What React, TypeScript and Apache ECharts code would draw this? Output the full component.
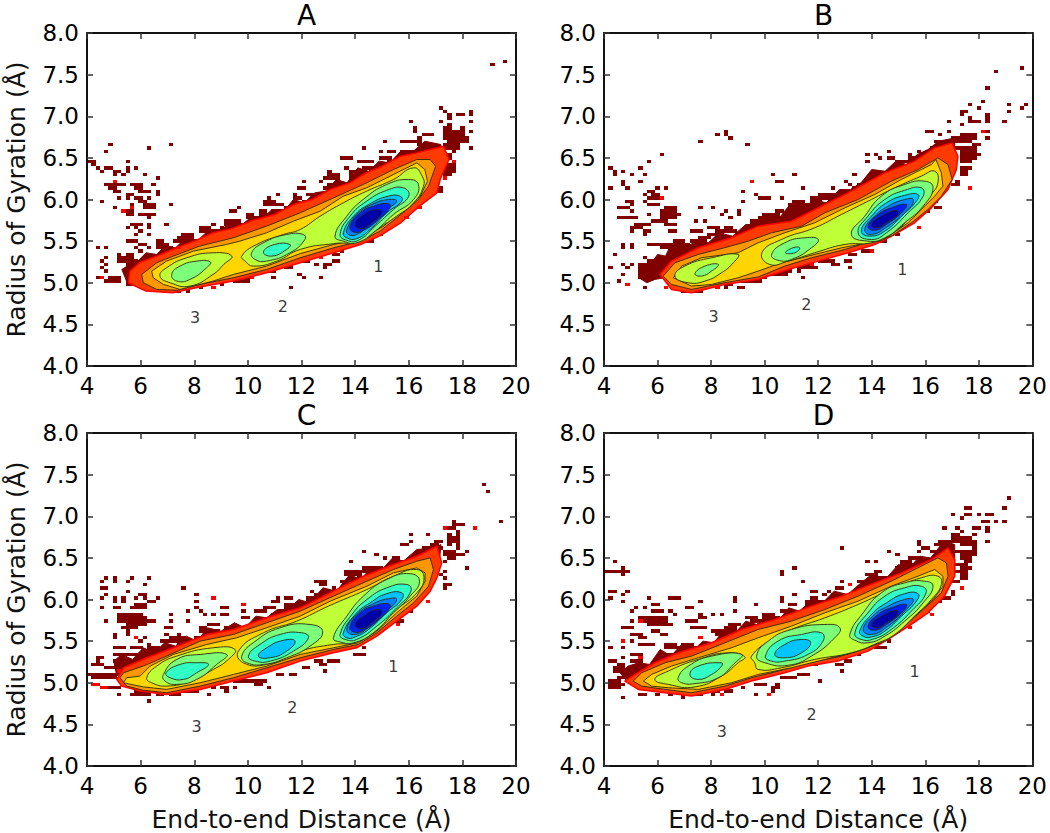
import React, { useEffect, useRef } from "react";
import * as echarts from "echarts";

const panelTitles = ["A", "B", "C", "D"];
const xTicksMin = 4, xTicksMax = 20, xTickStep = 2;
const yTicksMin = 4, yTicksMax = 8, yTickStep = 0.5;
const xName = "End-to-end Distance (Å)";
const yName = "Radius of Gyration (Å)";
const levelColors = ["#800000", "#ff3a00", "#ff9800", "#ffd500", "#bfff38", "#7dff7a", "#30ffc6", "#00c4ff", "#0080ff", "#0020f0", "#0000a8"];
const binW = 0.16, binH = 0.04;

// each band: level, then x,y pairs of the contour
const bandsA: number[][] = [
  [0, 5.5,5.0, 5.3,5.16, 5.5,5.2, 5.6,5.3, 5.9,5.26, 6.2,5.36, 6.6,5.34, 6.9,5.44, 7.3,5.42, 7.7,5.54, 8.1,5.5, 8.5,5.62, 8.9,5.6, 9.3,5.72, 9.7,5.68, 10.1,5.78, 10.5,5.76, 10.9,5.88, 11.3,5.84, 11.7,6.0, 12.1,5.96, 12.5,6.08, 12.9,6.1, 13.3,6.24, 13.7,6.2, 14.1,6.38, 14.5,6.34, 14.9,6.46, 15.3,6.44, 15.7,6.58, 16.1,6.56, 16.6,6.7, 17.2,6.66, 17.2,6.3, 14,5.8, 10,5.4, 7,5.1],
  [1, 5.54,5.0, 5.6,5.14, 6.0,5.25, 6.6,5.32, 7.35,5.42, 8.0,5.5, 8.7,5.6, 9.4,5.65, 10.2,5.75, 11.0,5.82, 11.7,5.94, 12.4,6.0, 13.07,6.12, 13.8,6.2, 14.4,6.32, 15.0,6.4, 15.7,6.52, 16.3,6.56, 16.8,6.6, 17.3,6.64, 17.5,6.48, 17.17,6.24, 17.05,6.08, 16.4,5.92, 15.7,5.72, 14.9,5.56, 14.2,5.46, 13.2,5.36, 11.95,5.24, 10.7,5.12, 9.46,5.02, 8.2,4.95, 7.2,4.88, 6.2,4.9],
  [2, 6.04,5.1, 6.6,5.24, 7.22,5.32, 8.2,5.44, 9.46,5.54, 10.7,5.68, 11.95,5.84, 13.2,6.02, 14.43,6.2, 15.43,6.36, 16.3,6.48, 16.8,6.48, 17.0,6.4, 16.74,6.16, 16.36,6.0, 15.7,5.82, 14.93,5.62, 14.2,5.5, 13.2,5.42, 11.95,5.3, 10.7,5.16, 9.46,5.06, 8.2,4.98, 7.35,4.91, 6.6,4.92, 6.1,5.0],
  [3, 6.41,5.14, 6.97,5.26, 7.97,5.38, 9.2,5.46, 9.7,5.5, 10.7,5.6, 11.7,5.74, 12.7,5.86, 13.56,6.04, 14.43,6.14, 15.43,6.3, 16.3,6.44, 16.6,6.36, 16.7,6.22, 16.43,6.04, 15.8,5.88, 15.06,5.68, 14.3,5.54, 13.2,5.46, 11.95,5.35, 10.7,5.2, 9.46,5.1, 8.7,5.02, 7.47,4.92, 6.85,4.98, 6.47,5.06],
  [4, 6.72,5.08, 6.97,5.18, 7.72,5.3, 8.7,5.36, 9.4,5.32, 9.1,5.22, 8.7,5.1, 7.84,4.96, 7.1,5.0],
  [4, 9.77,5.32, 10.33,5.46, 11.33,5.58, 11.95,5.64, 12.7,5.8, 13.56,5.96, 14.43,6.1, 15.43,6.24, 16.18,6.38, 16.5,6.28, 16.55,6.16, 16.18,5.96, 15.55,5.8, 14.8,5.64, 14.12,5.5, 13.2,5.47, 11.95,5.4, 11.08,5.26, 10.2,5.2, 9.9,5.26],
  [5, 7.16,5.1, 7.47,5.2, 8.1,5.26, 8.6,5.25, 8.46,5.18, 7.84,5.04, 7.35,5.02],
  [5, 10.14,5.36, 10.58,5.48, 11.45,5.58, 12.07,5.58, 12.13,5.52, 11.57,5.36, 10.7,5.26, 10.27,5.28],
  [5, 13.25,5.56, 13.69,5.8, 14.3,6.0, 15.18,6.18, 15.99,6.24, 16.36,6.18, 16.18,6.0, 15.43,5.82, 14.75,5.62, 14.06,5.48, 13.56,5.5],
  [6, 10.58,5.37, 11.0,5.46, 11.57,5.46, 11.45,5.4, 10.89,5.32],
  [6, 13.44,5.58, 13.81,5.8, 14.43,5.98, 15.18,6.11, 15.8,6.14, 16.0,6.04, 15.43,5.88, 14.75,5.68, 14.12,5.51, 13.69,5.51],
  [7, 13.56,5.6, 13.94,5.8, 14.56,5.95, 15.24,6.04, 15.68,6.04, 15.74,5.98, 15.18,5.84, 14.56,5.64, 14.06,5.53, 13.69,5.54],
  [8, 13.69,5.64, 14.06,5.82, 14.62,5.94, 15.24,6.0, 15.55,5.98, 15.18,5.88, 14.56,5.7, 14.06,5.58, 13.75,5.58],
  [9, 13.81,5.68, 14.19,5.84, 14.68,5.92, 15.24,5.95, 15.3,5.9, 14.81,5.74, 14.31,5.63, 13.94,5.61],
  [10, 14.0,5.7, 14.31,5.82, 14.81,5.88, 15.0,5.84, 14.62,5.72, 14.25,5.65],
];
const bandsB: number[][] = [
  [0, 5.9,5.04, 5.6,5.0, 5.3,5.06, 5.3,5.18, 5.7,5.2, 6.0,5.34, 6.3,5.32, 6.5,5.46, 7.1,5.44, 7.5,5.5, 7.9,5.48, 8.3,5.6, 8.8,5.56, 9.3,5.7, 9.7,5.7, 10.1,5.82, 10.5,5.76, 10.9,5.92, 11.4,5.84, 11.8,6.0, 12.3,5.96, 12.8,6.12, 13.2,6.12, 13.6,6.2, 14.0,6.36, 14.5,6.34, 14.9,6.46, 15.3,6.42, 15.7,6.54, 16.1,6.6, 16.5,6.7, 17.1,6.74, 17.1,6.3, 14,5.8, 10,5.4, 7,5.1],
  [1, 6.09,5.1, 6.52,5.26, 7.52,5.42, 8.76,5.54, 9.76,5.68, 11.0,5.74, 12.0,5.9, 13.24,6.1, 14.48,6.32, 15.6,6.46, 16.35,6.62, 17.0,6.68, 17.22,6.52, 17.16,6.36, 16.85,6.12, 16.23,5.9, 15.6,5.72, 14.86,5.58, 14.11,5.46, 13.12,5.36, 12.0,5.26, 10.88,5.16, 9.76,5.04, 8.5,4.98, 7.27,4.88, 6.52,4.92],
  [2, 6.21,5.08, 6.65,5.24, 7.52,5.34, 8.5,5.42, 9.39,5.5, 10.26,5.6, 11.38,5.68, 12.25,5.84, 13.49,6.0, 14.73,6.22, 15.73,6.36, 16.47,6.5, 16.85,6.42, 17.0,6.24, 16.6,6.04, 16.1,5.88, 15.48,5.72, 14.73,5.56, 13.99,5.5, 13.0,5.4, 11.75,5.3, 10.75,5.2, 9.76,5.07, 8.5,5.0, 7.27,4.92, 6.52,4.98],
  [3, 6.59,5.06, 6.9,5.2, 7.64,5.3, 9.01,5.36, 9.76,5.48, 10.75,5.6, 11.87,5.72, 13.0,5.9, 14.11,6.06, 15.1,6.24, 16.23,6.42, 16.4,6.48, 16.6,6.32, 16.66,6.16, 16.35,6.04, 15.85,5.88, 15.36,5.72, 14.61,5.56, 13.86,5.48, 12.87,5.42, 11.62,5.32, 10.63,5.24, 9.76,5.14, 9.01,5.06, 8.02,4.98, 7.27,4.96],
  [4, 6.65,5.08, 7.02,5.2, 8.02,5.3, 9.01,5.34, 8.83,5.24, 8.39,5.12, 7.77,5.02, 7.15,5.0],
  [4, 9.9,5.36, 10.63,5.52, 11.87,5.66, 12.87,5.82, 13.99,6.0, 14.86,6.14, 15.85,6.28, 16.35,6.34, 16.47,6.2, 16.16,6.04, 15.6,5.84, 14.73,5.58, 13.99,5.48, 13.0,5.46, 11.87,5.36, 10.88,5.26, 10.19,5.22],
  [5, 7.4,5.11, 7.77,5.2, 8.27,5.22, 8.02,5.14, 7.64,5.08],
  [5, 10.26,5.34, 10.75,5.48, 11.5,5.54, 12.0,5.52, 11.75,5.42, 11.0,5.28, 10.5,5.27],
  [5, 13.24,5.58, 13.74,5.8, 14.36,6.04, 15.23,6.18, 15.98,6.22, 16.29,6.14, 15.92,5.92, 15.23,5.72, 14.49,5.54, 13.86,5.5],
  [6, 10.78,5.36, 11.06,5.42, 11.31,5.42, 11.13,5.36],
  [6, 13.49,5.6, 13.86,5.8, 14.49,6.0, 15.23,6.11, 15.85,6.14, 15.92,6.04, 15.36,5.84, 14.55,5.6, 13.99,5.52],
  [7, 13.61,5.62, 13.99,5.8, 14.55,5.96, 15.23,6.05, 15.73,6.06, 15.67,5.98, 15.11,5.8, 14.49,5.62, 13.93,5.56],
  [8, 13.74,5.64, 14.11,5.8, 14.61,5.92, 15.23,6.0, 15.55,6.0, 15.36,5.88, 14.61,5.68, 13.99,5.58],
  [9, 13.86,5.68, 14.24,5.82, 14.73,5.9, 15.29,5.94, 15.17,5.86, 14.55,5.7, 14.11,5.63],
  [10, 13.99,5.7, 14.36,5.8, 14.92,5.87, 14.98,5.82, 14.55,5.72, 14.17,5.66],
];
const bandsC: number[][] = [
  [0, 5.1,5.1, 5.0,5.26, 5.3,5.34, 5.7,5.28, 6.1,5.42, 6.5,5.36, 6.9,5.48, 7.3,5.44, 7.7,5.56, 8.1,5.5, 8.5,5.66, 9.0,5.62, 9.5,5.72, 9.9,5.66, 10.3,5.8, 10.7,5.78, 11.1,5.88, 11.5,5.88, 11.9,6.0, 12.3,5.96, 12.8,6.14, 13.3,6.1, 13.8,6.3, 14.2,6.24, 14.6,6.38, 15,6.36, 15.4,6.5, 15.8,6.46, 16.3,6.6, 16.9,6.62, 17.2,6.66, 17.1,6.3, 14,5.8, 10,5.4, 7,5.1],
  [1, 5.11,5.04, 5.36,5.18, 6.23,5.3, 7.22,5.42, 8.47,5.58, 9.46,5.64, 10.7,5.78, 11.95,5.9, 13.19,6.1, 14.31,6.28, 15.43,6.42, 16.3,6.52, 17.05,6.64, 17.23,6.44, 17.05,6.26, 16.8,6.1, 16.3,5.92, 15.55,5.74, 14.81,5.56, 14.06,5.42, 13.19,5.36, 11.95,5.26, 10.7,5.12, 9.46,5.02, 8.22,4.92, 6.97,4.86, 5.98,4.9, 5.29,4.96],
  [2, 5.23,5.06, 5.36,5.12, 6.1,5.2, 6.97,5.32, 8.22,5.5, 9.46,5.58, 10.7,5.72, 11.95,5.86, 13.19,6.04, 14.44,6.22, 15.43,6.36, 16.3,6.46, 16.8,6.5, 16.92,6.36, 16.74,6.16, 16.18,5.96, 15.55,5.8, 14.81,5.6, 14.12,5.46, 13.19,5.4, 11.95,5.3, 10.7,5.18, 9.46,5.06, 8.22,4.96, 6.97,4.88, 6.1,4.91, 5.48,4.96],
  [3, 5.36,5.0, 5.48,5.06, 5.98,5.08, 6.35,5.2, 7.22,5.34, 8.47,5.46, 9.58,5.54, 10.7,5.66, 11.95,5.8, 13.07,5.98, 14.44,6.16, 15.43,6.32, 16.3,6.38, 16.61,6.32, 16.61,6.22, 16.3,6.04, 15.55,5.84, 14.81,5.62, 14.12,5.48, 13.19,5.42, 11.95,5.34, 10.7,5.2, 9.46,5.1, 8.22,5.0, 6.97,4.92, 6.1,4.95],
  [4, 6.23,5.06, 6.6,5.2, 7.35,5.32, 8.71,5.42, 9.52,5.4, 9.27,5.28, 8.71,5.16, 7.84,5.02, 6.97,4.96, 6.41,5.0],
  [4, 9.65,5.38, 10.58,5.6, 11.82,5.74, 13.0,5.92, 14.44,6.12, 15.43,6.28, 16.3,6.36, 16.57,6.26, 16.3,6.08, 15.55,5.88, 14.75,5.64, 14.06,5.49, 13.19,5.46, 11.95,5.38, 10.7,5.22, 9.83,5.24],
  [5, 6.85,5.1, 7.35,5.28, 8.22,5.34, 9.21,5.34, 8.84,5.22, 8.09,5.04, 7.35,4.98, 6.91,5.02],
  [5, 9.77,5.32, 10.2,5.48, 11.2,5.66, 12.32,5.7, 12.79,5.61, 12.32,5.44, 11.45,5.3, 10.58,5.22, 9.96,5.24],
  [5, 13.19,5.54, 13.69,5.8, 14.31,6.04, 15.18,6.24, 16.05,6.31, 16.4,6.22, 16.05,6.04, 15.43,5.84, 14.68,5.6, 13.94,5.48, 13.44,5.49],
  [6, 6.95,5.12, 7.47,5.22, 8.09,5.24, 8.53,5.22, 8.09,5.12, 7.6,5.04, 7.1,5.06],
  [6, 10.02,5.32, 10.45,5.46, 11.2,5.58, 12.01,5.6, 12.26,5.54, 11.7,5.38, 10.83,5.26, 10.27,5.26],
  [6, 13.44,5.58, 13.88,5.82, 14.44,6.0, 15.18,6.14, 15.93,6.18, 16.08,6.1, 15.55,5.9, 14.81,5.68, 14.06,5.52, 13.63,5.52],
  [7, 10.39,5.32, 10.7,5.42, 11.33,5.51, 11.76,5.5, 11.45,5.38, 10.83,5.3],
  [7, 13.56,5.6, 14.0,5.82, 14.56,5.96, 15.18,6.07, 15.74,6.08, 15.74,6.0, 15.18,5.84, 14.5,5.64, 14.0,5.55, 13.69,5.54],
  [8, 13.69,5.64, 14.06,5.82, 14.62,5.94, 15.24,6.01, 15.55,6.0, 15.18,5.86, 14.56,5.68, 14.0,5.58],
  [9, 13.81,5.68, 14.19,5.84, 14.68,5.92, 15.24,5.95, 15.3,5.9, 14.81,5.74, 14.31,5.63, 13.94,5.61],
  [10, 14.0,5.7, 14.31,5.8, 14.81,5.88, 15.0,5.84, 14.62,5.72, 14.25,5.65],
];
const bandsD: number[][] = [
  [0, 4.8,5.04, 4.6,5.12, 4.9,5.2, 5.3,5.24, 5.7,5.22, 6.1,5.4, 6.5,5.32, 6.9,5.46, 7.3,5.38, 7.7,5.5, 8.1,5.48, 8.5,5.64, 8.9,5.6, 9.3,5.74, 9.7,5.7, 10.1,5.8, 10.5,5.74, 10.9,5.9, 11.3,5.86, 11.7,5.98, 12.1,5.94, 12.6,6.1, 13.1,6.06, 13.6,6.2, 14,6.3, 14.5,6.24, 15,6.42, 15.4,6.38, 15.8,6.52, 16.2,6.5, 16.7,6.7, 17.1,6.66, 17.1,6.3, 14,5.8, 10,5.4, 7,5.1],
  [1, 4.78,5.02, 5.16,5.1, 5.9,5.24, 6.77,5.36, 8.02,5.48, 9.14,5.64, 10.38,5.76, 11.75,5.92, 12.87,6.04, 14.11,6.2, 15.11,6.32, 16.23,6.48, 16.85,6.62, 17.1,6.48, 17.1,6.28, 16.72,6.04, 16.1,5.84, 15.48,5.7, 14.61,5.52, 13.86,5.38, 12.74,5.26, 11.62,5.2, 10.75,5.12, 9.51,5.02, 8.52,4.92, 7.27,4.84, 6.28,4.88, 5.28,4.92],
  [2, 5.09,5.02, 5.41,5.12, 6.28,5.24, 7.27,5.32, 8.52,5.48, 9.76,5.64, 11.0,5.74, 12.25,5.88, 13.49,6.04, 14.73,6.22, 15.73,6.38, 16.47,6.5, 16.79,6.44, 16.85,6.28, 16.6,6.08, 15.98,5.9, 15.36,5.72, 14.61,5.56, 13.99,5.44, 12.87,5.32, 11.62,5.24, 10.5,5.14, 9.51,5.06, 8.52,4.96, 7.27,4.88, 6.28,4.92, 5.41,4.96],
  [3, 5.47,5.02, 5.78,5.1, 6.52,5.2, 7.52,5.3, 8.76,5.42, 9.76,5.54, 11.0,5.68, 12.25,5.84, 13.49,5.98, 14.73,6.16, 15.73,6.28, 16.35,6.36, 16.66,6.28, 16.66,6.16, 16.29,6.0, 15.73,5.84, 15.11,5.64, 14.49,5.5, 13.49,5.38, 12.25,5.28, 11.0,5.18, 9.76,5.1, 8.76,5.0, 7.52,4.92, 6.4,4.94, 5.78,4.96],
  [4, 5.9,5.04, 6.4,5.14, 7.52,5.28, 8.64,5.36, 9.26,5.31, 9.01,5.24, 8.39,5.08, 7.4,4.95, 6.4,4.98],
  [4, 9.51,5.32, 10.26,5.52, 11.0,5.64, 12.25,5.78, 13.49,5.94, 14.73,6.12, 15.85,6.26, 16.47,6.28, 16.6,6.18, 16.23,6.0, 15.6,5.8, 14.86,5.58, 14.24,5.48, 13.24,5.36, 11.87,5.28, 10.63,5.18, 9.76,5.16, 9.63,5.24],
  [5, 6.77,5.06, 7.15,5.2, 8.02,5.32, 9.14,5.34, 8.83,5.22, 8.27,5.06, 7.4,4.99, 6.9,5.0],
  [5, 9.7,5.32, 10.13,5.5, 11.0,5.64, 12.25,5.7, 12.81,5.66, 12.62,5.54, 11.75,5.32, 10.88,5.21, 10.01,5.24],
  [5, 13.18,5.58, 13.68,5.84, 14.36,6.08, 15.23,6.2, 15.98,6.22, 16.29,6.16, 15.92,5.96, 15.23,5.74, 14.49,5.56, 13.86,5.48, 13.37,5.51],
  [6, 7.21,5.1, 7.52,5.2, 8.39,5.24, 8.39,5.2, 8.02,5.1, 7.52,5.04],
  [6, 10.03,5.32, 10.5,5.5, 11.38,5.58, 12.12,5.6, 12.18,5.5, 11.62,5.34, 10.75,5.26, 10.26,5.26],
  [6, 13.37,5.6, 13.86,5.84, 14.49,6.04, 15.23,6.14, 15.85,6.16, 16.03,6.08, 15.48,5.86, 14.73,5.64, 14.11,5.53, 13.61,5.52],
  [7, 10.38,5.34, 10.75,5.46, 11.38,5.52, 11.72,5.48, 11.38,5.36, 10.75,5.3],
  [7, 13.55,5.62, 13.99,5.82, 14.55,5.96, 15.23,6.07, 15.73,6.07, 15.67,5.98, 15.11,5.8, 14.49,5.62, 13.99,5.55, 13.68,5.56],
  [8, 13.68,5.64, 14.11,5.82, 14.61,5.92, 15.23,6.0, 15.55,6.0, 15.29,5.88, 14.61,5.68, 13.99,5.58],
  [9, 13.86,5.68, 14.24,5.82, 14.73,5.9, 15.29,5.94, 15.17,5.86, 14.55,5.7, 14.11,5.63],
  [10, 13.99,5.7, 14.36,5.8, 14.92,5.87, 14.98,5.82, 14.55,5.72, 14.17,5.66],
];

// sparse histogram cells: x, y, run length in bins
const cellsA: number[][] = [
  [19.1,7.58,1],[19.45,7.62,1],[17.05,7.1,1],[17.2,7.06,1],[18.16,7.06,1],[18.16,6.98,1],[17.48,7.02,1],[17.75,7.02,2],[17.36,6.94,1],[18.16,6.9,1],[17.05,6.9,1],[17.36,6.86,1],[15.93,6.9,1],[16.1,6.82,1],[16.1,6.78,1],[17.85,6.82,1],[18.16,6.78,1],[17.5,6.82,1],[18,6.66,1],[18.16,6.58,1],
  [4,6.44,2],[4.16,6.4,1],[4.58,6.54,1],[4.73,6.62,1],[4.24,6.36,1],[4.42,6.31,1],[4.57,6.38,1],[4.86,6.37,1],[4.9,6.33,2],[4.9,6.28,1],[5.36,6.42,1],[5.5,6.38,1],[5.84,6.38,1],[5.2,6.28,1],[5.36,6.33,1],[6,6.3,1],[6.16,6.58,1],[7,6.62,1],[6.64,6.26,1],
  [4.72,6.18,3],[4.8,6.14,2],[5.16,6.18,2],[5.6,6.18,3],[6.32,6.18,1],[4.9,6.08,1],[5.04,6.08,1],[5.4,6.06,2],[5.84,6.12,2],[5.96,6.08,2],[6.48,6.1,1],[6.48,6.06,1],[6.28,6.08,1],[5.04,5.98,1],[4.55,5.94,1],[5.48,6,1],[5.84,5.98,2],[5.96,5.94,2],[6.28,5.98,1],[4.9,5.86,1],[5.54,5.9,1],[6.08,5.9,3],[6.08,5.86,3],[5.44,5.84,2],[5.36,5.78,2],[6.24,5.8,2],[5.9,5.8,2],[6.24,5.74,1],[5.6,5.66,3],[6.3,5.68,1],[6.3,5.62,1],[5.36,5.62,1],[5.84,5.62,1],[7,5.9,1],[6.8,5.66,1],[5.84,5.54,1],[5.98,5.58,1],[6.16,5.54,1],[5.36,5.46,2],[5.8,5.46,1],[5.95,5.42,2],[5.72,5.4,1],[6.16,5.38,1],[5.44,5.34,2],[4.24,5.38,1],[4.72,5.38,1],[4.72,5.3,1],[5.04,5.34,1],[4.42,5.26,1],[5.92,5.36,1],
  [5.12,5.28,4],[5.12,5.24,5],[5.36,5.2,2],[4.72,5.22,1],[4.55,5.16,1],[4.72,5.14,1],[4.24,5.06,1],[4.8,5.06,3],[4.72,4.98,3],[4.8,5.02,3],[5.48,5.1,3],[5.48,5.02,4],[5.48,4.96,4],[5.92,5.2,1],[6.5,5.46,2],[6.5,5.42,3],[6.5,5.38,4],[6.7,5.34,3],
  [7.2,5.48,2],[7.47,5.54,1],[7.6,5.54,3],[8.2,5.62,3],[8.1,5.58,4],[7.3,5.46,5],[7.4,5.5,4],[8.4,5.52,2],[8.9,5.64,1],[8.6,5.66,1],[9.2,5.72,4],[9.1,5.68,6],[8.8,5.6,8],[9.3,5.82,2],[9.52,5.86,1],[9.9,5.78,2],[9.9,5.74,4],[10.4,5.84,2],[10.4,5.78,3],[10.3,5.74,4],[10.64,5.98,1],[10.5,5.94,3],[10.5,5.9,3],[11,5.9,2],[10.8,5.84,3],[11,5.8,4],[11.4,5.86,2],[11.08,6.06,1],[11.6,6.06,1],[11.6,6.02,1],[11.7,5.98,2],[11.5,5.88,3],[11.7,5.92,3],[12,6.12,1],[12,6.22,1],[11.9,6.14,1],[12.2,6.06,2],[12.5,6.04,1],[12.3,6,3],[12,5.96,5],[12.6,6.22,1],[12.88,6.34,1],[13,6.3,2],[12.8,6.24,3],[12.9,6.18,3],[12.8,6.12,3],[13.3,6.3,1],[13.1,6.24,2],[13.4,6.46,3],[13.7,6.3,1],[13.6,6.36,1],[14,6.42,1],[13.8,6.32,2],[13.5,6.16,2],[14.2,6.58,1],[14.3,6.44,3],[14.2,6.36,4],[14.3,6.3,2],[13.8,6.26,5],[14.8,6.54,1],[14.8,6.48,3],[15,6.66,1],[15.2,6.54,2],[15.4,6.42,1],[15,6.38,2],[14.8,6.4,1],[15.2,6.44,2],[15.7,6.66,3],[15.6,6.54,3],[16.1,6.56,1],[16.2,6.68,2],[16.3,6.62,1],[16.5,6.74,3],[16.7,6.64,2],[16.3,6.7,1],
  [17.2,6.82,1],[17.2,6.78,5],[17.2,6.74,5],[17.2,6.7,6],[17.36,6.66,4],[17.28,6.62,4],[17.28,6.58,4],[17.6,6.54,1],[17.36,6.5,1],[17.2,6.46,2],[17.4,6.4,2],[17.6,6.38,1],[17.2,6.36,3],[17.2,6.32,3],[17.3,6.28,2],[17,6.12,2],[17,6.08,2],
  [6.8,4.86,1],[7.04,4.86,3],[7.76,4.88,1],[7.76,4.92,1],[8.08,4.9,1],[8.9,4.94,1],[9.4,5,4],[9.6,5.02,3],[9.5,5.06,4],[10.5,5.12,3],[10.95,5.06,1],[11.45,4.9,1],[11.4,5.2,2],[11.4,5.16,2],[11.76,5.1,1],[12.07,5.06,1],[12.56,5.06,1],[12,5.24,2],[12.4,5.22,1],[12.8,5.22,2],[12.85,5.18,1],[13.1,5.32,2],[13.1,5.26,2],[13.5,5.36,1],[14.4,5.48,2],[14.9,5.54,1],[15.2,5.68,1],[15.8,5.76,1],[16.2,5.9,1],
];
const cellsB: number[][] = [
  [18.5,7.5,1],[19.44,7.54,1],[19.1,7.14,1],[19.44,7.1,1],[19.75,7.14,1],[18.96,7.06,1],[18.8,6.9,1],[18.16,7.3,1],[18,7.18,1],[17.65,7.14,1],[17.84,7.1,1],[17.3,7.06,2],[17.34,7,1],[17.53,6.94,1],[17.6,6.9,3],[18.16,6.98,1],[18.2,6.94,1],[18.3,6.9,1],[16.85,6.9,1],[17.2,6.86,1],[18.1,6.8,2],[18.16,6.7,1],
  [7.6,6.66,1],[8.08,6.74,1],[8.4,6.78,1],[8.55,6.74,1],[8.7,6.7,1],[9.35,6.62,1],[6,6.5,1],[5.68,6.42,1],[5.2,6.38,1],[5.5,6.3,1],[5.03,6.3,1],[4.08,6.38,1],[4.3,6.34,1],[4.72,6.34,1],[4.38,6.28,1],[4.57,6.22,1],[4.72,6.18,1],[4.88,6.12,1],[5.2,6.22,1],[4.2,6.14,1],[10.16,6.3,1],[10.32,6.22,1],[10.63,6.22,1],[11.1,6.3,1],[11.44,6.14,1],[9.2,6.1,1],[9.18,5.94,1],[9.66,6.06,1],[9.8,6.02,2],[9.9,5.98,2],[10.63,5.98,1],
  [5.96,6.14,1],[6.3,6.14,1],[5.6,6.1,2],[5.84,6.06,2],[5.52,6.04,1],[5.6,5.98,3],[5.36,5.94,1],[4.8,5.94,2],[5,5.9,1],[5.6,5.9,3],[4.5,5.86,3],[4.9,5.82,1],[4.4,5.74,1],[4.64,5.74,3],[5.1,5.74,1],[6.16,5.88,3],[6.1,5.84,4],[6,5.78,5],[5.66,5.78,1],[6.1,5.74,4],[5.76,5.7,4],[6.24,5.66,3],[5.04,5.68,4],[5,5.64,3],[5.36,5.58,2],[5.03,5.58,1],[5.44,5.54,1],[6.4,5.6,1],[6.64,5.8,1],[6.64,5.58,1],[7.28,5.7,1],
  [7.6,5.86,1],[7.92,5.86,1],[8.4,5.82,1],[8.24,5.78,1],[8.9,5.82,1],[8.7,5.74,1],[9,5.78,1],[7.76,5.7,1],[7.9,5.62,3],[7.2,5.58,3],[7.5,5.5,2],[8.4,5.64,2],
  [5.84,5.42,5],[6,5.38,3],[5.66,5.42,1],[5,5.42,1],[4.72,5.42,1],[4.57,5.38,1],[5.03,5.38,1],[4.24,5.34,1],[5.36,5.3,1],[5.6,5.26,2],[4.72,5.22,1],[4.08,5.18,1],[5.03,5.22,1],[4.85,5.16,1],[4.72,5.1,1],[4.4,5.02,1],[5.2,5.2,3],[5.2,5.16,4],[5.2,5.12,4],[5.28,5.08,3],[5.28,5.04,3],[5.52,4.9,1],[5.76,5.22,3],[5.76,5.18,2],[5.76,5.14,2],[6.3,5.38,5],[6.4,5.42,5],[6.6,5.46,3],
  [7.2,5.46,4],[7.3,5.42,4],[7.5,5.5,3],[7.9,5.54,4],[8.1,5.58,4],[8.4,5.6,3],[8.5,5.52,3],[9.4,5.66,6],[9.5,5.7,5],[9.8,5.74,5],[9.9,5.78,4],[10.3,5.74,3],[10.4,5.82,2],[10.9,5.78,6],[10.9,5.82,5],[10.9,5.86,5],[10.9,5.9,4],[11,5.94,3],[11.5,5.9,3],[11.6,5.94,3],[11.6,5.98,2],[11.9,6,3],[12,6.04,4],[12.1,6.06,3],[12.3,6.02,3],[12.5,6.14,1],[12.9,6.06,3],[12.9,6.1,2],[13.1,6.18,1],[13.3,6.14,3],[13.4,6.18,2],[13.6,6.18,2],[13,6.22,1],[13.3,6.3,1],[14,6.22,3],[14,6.26,2],[14,6.3,2],[14,6.34,1],[13.8,6.42,1],[13.7,6.5,1],[14,6.5,1],[14.3,6.46,1],[14.6,6.46,2],[14.6,6.54,1],[14.8,6.42,4],[14.8,6.38,4],[15,6.34,3],[15.3,6.4,3],[15.4,6.46,3],[15.4,6.5,1],[15.6,6.54,1],[15.7,6.56,1],[16,6.52,3],[16.1,6.6,4],[16.3,6.66,5],[16,6.78,1],[16.2,6.78,1],[16.5,6.76,1],[16.8,6.78,1],[16.9,6.7,6],[17.2,6.74,4],[17.5,6.66,2],[17.1,6.6,5],[17.1,6.66,3],
  [17.2,6.54,4],[17.3,6.5,4],[17.2,6.46,4],[17.3,6.42,3],[17.2,6.38,3],[17.2,6.34,2],[17.3,6.3,2],[17.1,6.2,1],[17,6.16,2],[17.7,6.52,1],[17.9,6.5,1],[17.8,6.62,2],
  [6.6,4.92,1],[6.9,4.86,4],[6.9,4.9,3],[7.5,4.86,1],[7.6,4.9,2],[8,4.94,1],[8.5,4.9,1],[8.55,4.96,2],[9,4.92,1],[9.15,4.9,1],[9.15,4.98,2],[9.5,5,3],[9.6,5.04,3],[10.3,5.1,4],[10.5,5.14,3],[11,5.2,5],[11.2,5.18,5],[11.44,5.06,1],[11.2,5.14,1],[12,5.24,4],[12.4,5.2,2],[12.9,5.24,2],[13.1,5.18,1],[13.2,5.32,2],[13.6,5.36,3],[14.1,5.46,3],[14.8,5.54,1],[15.2,5.66,1],[16,5.82,1],[16.3,5.88,2],[16.4,5.94,1],
];
const cellsC: number[][] = [
  [18.64,7.34,1],[18.81,7.26,1],[19.28,6.9,1],[17.52,6.92,1],[17.52,6.9,1],[17.2,6.82,2],[17.52,6.82,1],[17.6,6.86,1],[17.8,6.86,2],[18.32,6.82,1],[17.36,6.76,1],[17.7,6.78,1],[17.8,6.74,1],[16.7,6.74,1],[16.08,6.74,1],[15.95,6.68,1],[15.7,6.62,2],[16,6.66,1],[14.3,6.54,1],[14.66,6.5,1],[14.97,6.46,1],[13.7,6.42,1],[7.44,6.14,1],[7.93,6.06,1],[7.93,5.94,1],[7.93,5.86,1],[8.1,5.82,1],[7.62,5.82,1],[7.62,5.7,1],[18.04,6.54,1],[18,6.38,1],
  [4.72,6.26,1],[4.55,6.22,1],[5,6.26,1],[5,6.22,1],[5.36,6.22,1],[5.54,6.26,1],[6.16,6.26,1],[6,6.18,1],[4.42,6.14,1],[4.72,6.14,1],[5.52,6.1,1],[4.72,6.06,1],[4.9,6.02,1],[4.55,6,1],[5.2,6.02,1],[5.2,5.94,1],[4.9,5.94,1],[5.96,6.06,2],[5.84,6,1],[6.1,6,1],[6.5,5.98,1],[6.24,5.94,2],[5.8,5.9,3],[5.6,5.86,4],[5,5.86,2],[4.55,5.86,1],[4.72,5.7,1],
  [5.12,5.78,6],[5.04,5.74,7],[5.04,5.7,2],[5.4,5.7,5],[5.5,5.66,5],[5.5,5.64,3],[6.3,5.72,2],[4.9,5.56,1],[4.9,5.52,1],[5.2,5.62,1],[5.52,5.58,1],[5.52,5.54,1],[5.8,5.52,1],[5.98,5.48,1],[6.16,5.42,1],[5.6,5.38,3],[5,5.38,3],[6.14,5.5,1],[6.2,5.4,3],[6.3,5.36,4],[5.2,5.32,4],
  [6.8,5.62,2],[7,5.78,1],[7,5.72,1],[6.8,5.56,1],[6.72,5.48,2],[7,5.5,2],[7.1,5.48,4],[7.4,5.56,1],[7.4,5.52,2],[7.3,5.42,4],[8.2,5.6,2],[8.4,5.68,1],[8.7,5.68,2],[8.7,5.78,1],[9,5.86,2],[9,5.8,2],[8.2,5.64,2],[8.34,5.78,1],[8.1,5.64,1],[8,5.52,3],[8.5,5.6,3],[9.83,5.9,1],[9.83,5.84,1],[9.8,5.76,2],[9.2,5.64,2],[10.5,5.88,3],[10.3,5.84,3],[10.2,5.72,4],[10.95,5.96,2],[11.1,6.02,1],[11.3,5.98,2],[11.4,5.92,3],[11.3,5.86,4],[10.8,5.8,4],[12.3,6.1,1],[12.5,6.22,3],[12.7,6.16,2],[12.1,6,3],[12.4,6.04,3],[12.1,5.96,4],[13.2,6.12,1],[13.4,6.22,2],[13.5,6.1,3],[13.1,6.06,3],[13.6,6.34,4],[13.6,6.28,4],[13.8,6.2,2],[13.6,6.16,4],[14.2,6.36,5],[14.3,6.32,5],[14.1,6.24,3],[15.3,6.44,3],[15.3,6.48,2],
  [16.5,6.6,5],[16.8,6.62,2],[16.9,6.66,2],[17.4,6.7,3],[17.4,6.66,3],[17.5,6.62,1],[17.7,6.62,1],[17.2,6.56,3],[17.4,6.52,4],[17.3,6.5,3],[17.5,6.46,2],[17.2,6.42,1],[17.1,6.3,1],[17.3,6.34,1],[17.3,6.24,1],[17.2,6.18,2],[17.3,6.14,1],[17.8,6.58,1],
  [4,5.1,4],[4.1,5.06,3],[4.3,5.3,2],[4.3,5.26,1],[4.2,5.2,3],[4.6,5.16,3],[4.6,5.1,4],[4.7,5.04,3],[5.04,4.84,1],[4.8,4.92,3],[5,5.32,3],[5,5.24,3],[5.76,5.24,3],[5.8,4.88,4],[5.6,4.84,3],[6.16,4.76,1],[6.1,4.84,2],[6.5,4.84,2],[7,4.84,3],[7.5,4.88,4],[8.4,4.82,1],[8.6,4.9,1],[9,4.92,2],[9.2,4.86,1],[9.5,4.9,1],[9.4,4.98,4],[10,5,4],[10.64,4.9,1],[10.3,4.96,2],[11,5.08,2],[11.5,5.1,2],[12,5.16,2],[12.5,5.24,2],[12.7,5.2,2],[12.8,5.14,1],[13,5.24,3],[13.9,5.32,3],[14.3,5.4,1],[15.5,5.72,2],[16.05,5.84,1],
];
const cellsD: number[][] = [
  [19.1,7.22,1],[18.8,7.1,1],[17.5,7.1,2],[17.03,7.02,1],[17.65,7.02,1],[17.2,6.94,1],[17.5,6.98,1],[17.96,7.02,1],[18.2,6.98,2],[18,6.9,2],[18.5,6.9,1],[18.8,6.9,1],[17.8,6.82,2],[18.3,6.82,1],[18.3,6.78,1],[16.7,6.82,1],[17.05,6.82,1],[18.3,6.66,1],[17.7,6.74,1],[12.72,6.58,1],[11.1,6.38,1],[10.63,6.32,1],[10.63,6.28,1],[11.44,6.22,1],[12.87,6.22,1],[13.4,6.22,3],[13.68,6.42,1],[14,6.42,1],[14.6,6.54,1],[14.8,6.5,1],[15.75,6.66,1],[15.6,6.62,1],[15.6,6.54,1],
  [4.38,6.42,1],[4,6.34,4],[4.72,6.38,1],[4.64,6.34,2],[4.64,6.3,1],[4.16,6.1,2],[4.88,6.1,1],[4.72,6.06,1],[4.2,5.98,1],[4.72,5.94,1],[5.68,6.02,1],[6.32,6.02,1],[6.5,5.98,2],[7.44,5.94,1],[7.05,5.88,2],[8.85,5.98,1],[8.85,5.94,1],[8.85,5.82,1],[9.66,5.9,1],[10.6,6,1],[10.5,5.94,1],[11.1,6.06,1],[11.7,6.1,2],[12.3,6.1,1],[12.1,6.06,1],[11.7,6,2],
  [5.12,5.86,1],[5.03,5.82,1],[5.44,5.86,1],[5.76,5.9,2],[5.8,5.82,3],[5.3,5.76,7],[5.5,5.72,6],[5.6,5.68,5],[5,5.72,1],[4.7,5.62,3],[4.9,5.56,3],[5.2,5.5,2],[5.8,5.6,2],[6,5.54,2],[6.4,5.82,1],[6.3,5.66,2],[6.64,5.78,1],[7,5.7,3],[7.44,5.8,1],[7.44,5.76,1],[7.2,5.64,3],[7.76,5.76,1],[7.92,5.78,1],[8.38,5.78,1],[7.76,5.62,1],[7.44,5.5,1],[8,5.6,2],[8.4,5.64,3],[8.1,5.54,3],[8.7,5.66,3],
  [5.2,5.42,3],[5.78,5.42,1],[4.72,5.38,1],[5.03,5.46,1],[4.1,5.38,1],[6.3,5.42,3],[6.3,5.38,4],[6.9,5.42,3],[6.3,5.32,3],
  [4.2,5.24,2],[4.3,5.18,3],[4.5,5.2,2],[4.3,5.12,4],[4.5,5.06,2],[4.1,5,3],[4.1,4.96,4],[4.16,4.9,3],[4.72,4.78,1],[5,5.24,3],[5.2,5.18,3],[4.72,5.28,1],[5,5.32,3],
  [5.2,4.82,1],[5.5,4.82,1],[5.96,4.82,1],[6.4,4.82,1],[6.8,4.8,1],[6.8,4.84,5],[7.92,4.82,1],[8,4.88,2],[8.5,4.86,2],[9.2,4.9,1],[9.63,4.82,1],[9.6,4.96,3],[10.3,4.86,1],[10.3,4.9,2],[10.4,4.94,1],[10.6,5.06,4],[11.2,5.1,3],[12.06,5.02,1],[11.6,5.2,2],[12,5.24,3],[12.6,5.2,2],[12.74,5.14,1],[13,5.24,2],[13.5,5.34,1],[14,5.4,3],[14.5,5.48,1],[14.9,5.58,1],[16,5.84,1],[16.3,5.96,2],
  [6.9,5.38,4],[8.3,5.6,4],[8.6,5.66,3],[9.4,5.72,4],[9.3,5.74,3],[9.9,5.8,3],[9.9,5.76,4],[10.3,5.74,1],[10.8,5.9,2],[10.5,5.84,3],[11,5.8,3],[11.5,5.96,3],[11.5,5.92,4],[12,5.94,2],[12.5,6.04,3],[12.7,6.12,2],[13.7,6.18,1],[13.8,6.3,3],[14,6.26,4],[14.3,6.22,2],[14.1,6.32,2],[15,6.44,3],[14.9,6.36,4],[15.1,6.4,4],[15.4,6.48,3],[15.9,6.58,2],[16.2,6.54,2],[16.5,6.68,2],[16.4,6.62,3],[16.8,6.66,2],
  [17,6.74,2],[17.3,6.78,1],[17,6.7,5],[17.1,6.66,4],[17.2,6.62,4],[17.1,6.56,5],[17.2,6.52,4],[17.2,6.48,3],[17.4,6.44,2],[17.1,6.4,3],[17.2,6.36,3],[17.1,6.32,3],[17.2,6.24,2],[17.2,6.28,2],[17,6.2,2],[16.9,6.1,1],[17,6.06,1],[16.6,6,2],[17.8,6.6,1],[17.6,6.66,2],
];
const redA: number[][] = [[8.56,4.9,1],[17.3,6.24,1],[17.66,6.42,1],[4.55,5.06,1],[5.2,5.85,1],[5.66,5.86,1],[4.9,6.2,1],[12.7,5.3,1],[15.9,5.74,1],[16.4,5.88,1],[10,5.06,1],[7.4,5.4,1]];
const redB: number[][] = [[9.5,6.22,1],[4.88,4.94,1],[8.1,4.9,1],[6.2,4.92,1],[6.1,5.98,1],[17.6,6.14,1],[18.1,6.8,1],[15.6,5.64,1],[13.9,5.36,1],[11.7,5.2,1]];
const redC: number[][] = [[8.6,6.0,1],[9.8,5.9,1],[17.2,6.82,1],[18.32,6.82,1],[4.1,4.96,2],[4.4,4.92,2],[5.04,5.12,1],[15.5,5.66,1],[16.6,5.96,1],[5.76,5.5,1]];
const redD: number[][] = [[4.72,5.48,1],[5.3,5.3,1],[13.2,6.16,1],[8.35,4.84,1],[10.1,4.84,1],[7.44,5.5,1],[16.1,5.8,1],[15.4,5.62,1],[5.2,5.72,1],[17.2,6.12,1]];

// annotations: label, x, y
const notesA: (string | number)[][] = [["1",14.87,5.2],["2",11.3,4.71],["3",8.03,4.58]];
const notesB: (string | number)[][] = [["1",15.14,5.16],["2",11.56,4.74],["3",8.09,4.6]];
const notesC: (string | number)[][] = [["1",15.43,5.19],["2",11.66,4.7],["3",8.09,4.48]];
const notesD: (string | number)[][] = [["1",15.6,5.14],["2",11.75,4.62],["3",8.4,4.42]];

const panelBands = [bandsA, bandsB, bandsC, bandsD];
const panelCells = [cellsA, cellsB, cellsC, cellsD];
const panelRed = [redA, redB, redC, redD];
const panelNotes = [notesA, notesB, notesC, notesD];
const gridLefts = [87, 604, 87, 604];
const gridTops = [33, 33, 433, 433];
const FONT = "DejaVu Sans";

function buildOption() {
  const grid: any[] = [], xAxis: any[] = [], yAxis: any[] = [], series: any[] = [], title: any[] = [];
  const axisBase = {
    axisLine: { show: true, onZero: false, lineStyle: { color: "#111", width: 2 } },
    axisTick: { show: true, inside: true, length: 6, lineStyle: { color: "#333", width: 1.5 } },
    splitLine: { show: false },
    z: 10,
  };
  panelTitles.forEach((t, p) => {
    grid.push({ left: gridLefts[p], top: gridTops[p], width: 429, height: 333, containLabel: false });
    title.push({
      text: t, left: gridLefts[p] + 214.5, top: gridTops[p] - 37, textAlign: "center",
      textStyle: { fontFamily: FONT, fontSize: 28, fontWeight: "normal", color: "#000" },
    });
    const xb = { ...axisBase, type: "value", gridIndex: p, min: xTicksMin, max: xTicksMax, interval: xTickStep };
    const yb = { ...axisBase, type: "value", gridIndex: p, min: yTicksMin, max: yTicksMax, interval: yTickStep };
    xAxis.push({
      ...xb, position: "bottom",
      axisLabel: { fontFamily: FONT, fontSize: 23, color: "#000", margin: 8, hideOverlap: false, showMinLabel: true, showMaxLabel: true },
      ...(p >= 2 ? { name: xName, nameLocation: "middle", nameGap: 41, nameTextStyle: { fontFamily: FONT, fontSize: 25, color: "#111" } } : {}),
    });
    xAxis.push({ ...xb, position: "top", axisLabel: { show: false } });
    yAxis.push({
      ...yb, position: "left",
      axisLabel: { fontFamily: FONT, fontSize: 23, color: "#000", margin: 8, formatter: (v: number) => v.toFixed(1), showMinLabel: true, showMaxLabel: true },
      ...(p % 2 === 0 ? { name: yName, nameLocation: "middle", nameRotate: 90, nameGap: 58, nameTextStyle: { fontFamily: FONT, fontSize: 25, color: "#111" } } : {}),
    });
    yAxis.push({ ...yb, position: "right", axisLabel: { show: false } });

    const xi = p * 2, yi = p * 2;
    const cellSeries = (data: number[][], color: string) => ({
      type: "custom", coordinateSystem: "cartesian2d", xAxisIndex: xi, yAxisIndex: yi, clip: true, silent: true,
      data, encode: { x: 0, y: 1 },
      renderItem: (_: any, api: any) => {
        // snap each cell to its histogram bin, then to whole pixels
        const bx = xTicksMin + binW * Math.round((api.value(0) - xTicksMin) / binW);
        const by = yTicksMin + binH * Math.round((api.value(1) - yTicksMin) / binH);
        const a = api.coord([bx, by + binH]);
        const b = api.coord([bx + binW * api.value(2), by]);
        const x0 = Math.round(a[0]), x1 = Math.round(b[0]), y0 = Math.round(a[1]), y1 = Math.round(b[1]);
        return { type: "rect", shape: { x: x0, y: y0, width: x1 - x0, height: y1 - y0 }, style: { fill: color } };
      },
    });
    series.push(cellSeries(panelCells[p], levelColors[0]));
    const bands = panelBands[p];
    series.push({
      type: "custom", coordinateSystem: "cartesian2d", xAxisIndex: xi, yAxisIndex: yi, clip: true, silent: true,
      data: bands.map((b, i) => [b[1], b[2], i]), encode: { x: 0, y: 1 },
      renderItem: (_: any, api: any) => {
        const b = bands[api.value(2)];
        const pts: number[][] = [];
        for (let k = 1; k < b.length; k += 2) pts.push(api.coord([b[k], b[k + 1]]));
        const level = b[0];
        return {
          type: "polygon",
          shape: { points: pts, smooth: level >= 4 ? 0.5 : 0 },
          style: {
            fill: levelColors[level],
            stroke: level === 0 ? "#800000" : level === 1 ? "#ff0000" : "#2a2a12",
            lineWidth: level === 1 ? 1.5 : level === 0 ? 1 : 0.9,
            lineJoin: "round",
          },
        };
      },
    });
    series.push(cellSeries(panelRed[p], "#ff0000"));
    series.push({
      type: "scatter", xAxisIndex: xi, yAxisIndex: yi, silent: true, symbolSize: 0,
      data: panelNotes[p].map((n) => [n[1], n[2], n[0]]),
      label: {
        show: true, position: "inside", formatter: (d: any) => d.value[2],
        fontFamily: FONT, fontSize: 16, color: "#000",
      },
    });
  });
  return { animation: false, backgroundColor: "#fff", title, grid, xAxis, yAxis, series };
}

export default function App() {
  const ref = useRef<HTMLDivElement>(null);
  useEffect(() => {
    if (!ref.current) return;
    const chart = echarts.init(ref.current, undefined, { renderer: "svg" });
    chart.setOption(buildOption() as any);
    return () => chart.dispose();
  }, []);
  return <div ref={ref} style={{ position: "absolute", left: 0, top: 0, width: 1050, height: 833 }} />;
}
